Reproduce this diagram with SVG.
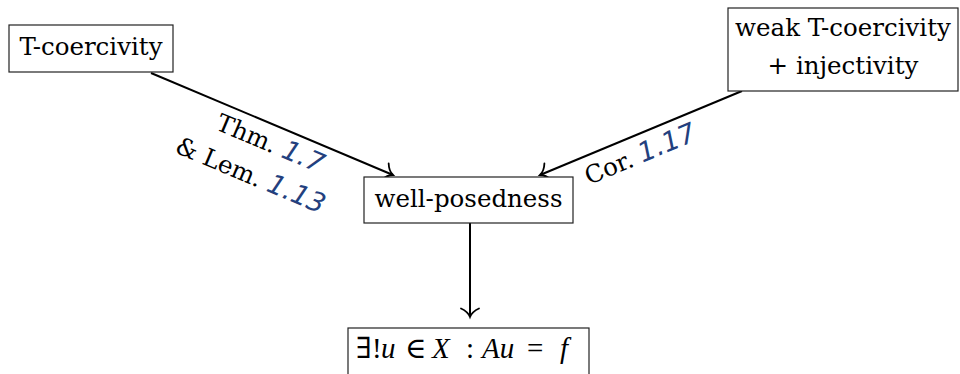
<svg xmlns="http://www.w3.org/2000/svg" width="960" height="374" viewBox="0 0 960 374">
<defs>
<style>
.box{fill:#fff;stroke:#222;stroke-width:1.2}
.t{font-family:"DejaVu Serif","Liberation Serif",serif;font-size:24.5px;fill:#000;text-anchor:middle}
.ref{font-family:"DejaVu Sans","Noto Sans",sans-serif;font-style:italic;font-size:27px;fill:#23407e}
.edge{fill:none;stroke:#000;stroke-width:2}
.m{font-family:"Liberation Serif","DejaVu Serif",serif;font-size:29px;fill:#000}
.mi{font-style:italic}
</style>
<marker id="arr" markerUnits="userSpaceOnUse" markerWidth="24" markerHeight="24" viewBox="-12 -12 24 24" refX="0" refY="0" orient="auto">
<path d="M -8.5 -9 C -6 -3.5 -2.5 -1 0 0 C -2.5 1 -6 3.5 -8.5 9" fill="none" stroke="#000" stroke-width="1.8" stroke-linecap="round"/>
</marker>
</defs>
<rect width="960" height="374" fill="#fff"/>
<g id="connectors">
<path class="edge" d="M 151 73 L 393 175" marker-end="url(#arr)"/>
<path class="edge" d="M 742 91 L 540 175" marker-end="url(#arr)"/>
<path class="edge" d="M 470 223 L 470 317" marker-end="url(#arr)"/>
<g transform="translate(272,124) rotate(22.85)">
<text class="t" x="6" y="27">Thm. <tspan class="ref">1.7</tspan></text>
<text class="t" x="0" y="64">&amp; Lem. <tspan class="ref">1.13</tspan></text>
</g>
<g transform="translate(641,133) rotate(-22.6)">
<text class="t" x="-9" y="28">Cor. <tspan class="ref">1.17</tspan></text>
</g>
</g>
<g id="tcoer">
<rect class="box" x="9" y="25" width="164" height="47"/>
<text class="t" x="91" y="55">T-coercivity</text>
</g>
<g id="weak">
<rect class="box" x="728" y="8" width="230" height="83"/>
<text class="t" x="843" y="36">weak T-coercivity</text>
<text class="t" x="843" y="74">+ injectivity</text>
</g>
<g id="wellposed">
<rect class="box" x="364" y="177" width="209" height="46"/>
<text class="t" x="468.5" y="207">well-posedness</text>
</g>
<g id="unique">
<rect class="box" x="348" y="328" width="241" height="50"/>
<text class="m" y="358"><tspan x="356">∃</tspan><tspan x="372">!</tspan><tspan x="381" class="mi">u</tspan><tspan x="405">∈</tspan><tspan x="432" class="mi">X</tspan><tspan x="466">:</tspan><tspan x="482" class="mi">Au</tspan><tspan x="527">=</tspan><tspan x="560" class="mi">f</tspan></text>
</g>
</svg>
